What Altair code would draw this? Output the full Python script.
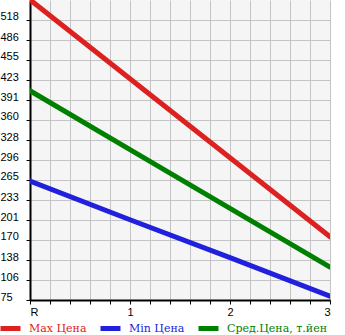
import altair as alt
import pandas as pd

# ---- data ----
x_pos = [0, 1, 2, 3]
x_names = ["R", "1", "2", "3"]
max_price = [550, 425, 300, 175]
min_price = [263, 202, 142, 81]
avg_price = [406, 313, 220, 127]
series = ["Max Цена", "Min Цена", "Сред.Цена, т.йен"]
colors = ["#dd2020", "#2020dd", "#008000"]
y_ticks = [75, 106, 138, 170, 201, 233, 265, 296, 328, 360, 391, 423, 455, 486, 518]
y_domain = [75, 549.6]

rows = []
for name, vals in zip(series, [max_price, min_price, avg_price]):
    for x, v in zip(x_pos, vals):
        rows.append({"x": x, "price": v, "series": name})
df = pd.DataFrame(rows)

x_grid = [round(i * 0.2, 1) for i in range(16)]
label_expr = "datum.value == 0 ? 'R' : (abs(datum.value - round(datum.value)) < 0.001 ? '' + round(datum.value) : '')"

color_expr = (
    "datum.value == '" + series[0] + "' ? '" + colors[0] + "' : "
    "(datum.value == '" + series[1] + "' ? '" + colors[1] + "' : '" + colors[2] + "')"
)

chart = (
    alt.Chart(df)
    .mark_line(strokeWidth=5, strokeCap="round", clip=True)
    .encode(
        x=alt.X(
            "x:Q",
            scale=alt.Scale(domain=[0, 3], nice=False, zero=False),
            axis=alt.Axis(
                values=x_grid,
                labelExpr=label_expr,
                title=None,
                grid=True,
                tickSize=4,
                labelPadding=2,
                labelAngle=0,
            ),
        ),
        y=alt.Y(
            "price:Q",
            scale=alt.Scale(domain=y_domain, nice=False, zero=False),
            axis=alt.Axis(
                values=y_ticks,
                title=None,
                grid=True,
                tickSize=4,
                labelAlign="left",
                labelBaseline="alphabetic",
                labelPadding=26,
            ),
        ),
        color=alt.Color(
            "series:N",
            scale=alt.Scale(domain=series, range=colors),
            legend=alt.Legend(
                title=None,
                orient="none",
                legendX=-32,
                legendY=316,
                padding=0,
                direction="horizontal",
                gridAlign="none",
                symbolType="stroke",
                symbolSize=400,
                symbolStrokeWidth=5,
                labelFont="DejaVu Serif",
                labelFontSize=11,
                labelColor={"expr": color_expr},
                labelOffset=6,
                columnPadding=3,
            ),
        ),
        order="x:Q",
    )
    .properties(
        width=300,
        height=300,
        autosize=alt.AutoSizeParams(type="none"),
        padding={"left": 30, "top": 0, "right": 15, "bottom": 35},
    )
    .configure_view(fill="#f5f5f5", strokeWidth=0)
    .configure_axis(
        domainColor="black",
        domainWidth=2,
        tickColor="black",
        tickWidth=1,
        gridColor="#c4c4c4",
        gridWidth=1,
        labelFont="Liberation Sans",
        labelFontSize=11,
        labelColor="black",
    )
)

chart.save("out.html", embed_options={"renderer": "svg", "actions": False})
